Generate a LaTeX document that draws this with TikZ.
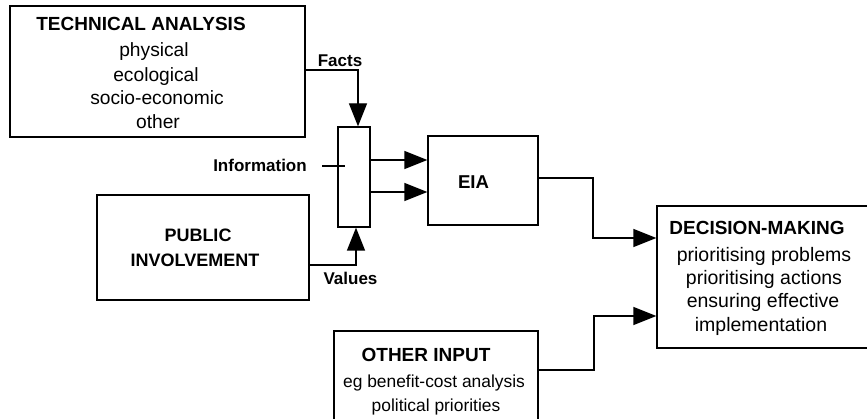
\documentclass[tikz,border=0pt]{standalone}
\usepackage{fontspec}
\setmainfont{Liberation Sans}
\usetikzlibrary{arrows.meta}
\begin{document}
\begin{tikzpicture}[x=1pt,y=-1pt,
  box/.style={draw,line width=1.3pt,rectangle,inner sep=0pt},
  conn/.style={line width=1.3pt},
  arr/.style={line width=1.3pt,-{Triangle[length=23pt,width=18pt]}},
  txt/.style={anchor=base,inner sep=0pt},
  hd/.style={txt,font=\fontsize{19}{22}\selectfont\bfseries},
  lbl/.style={txt,font=\fontsize{17}{20}\selectfont\bfseries}]
\useasboundingbox (0,0) rectangle (867,419);
\clip (0,0) rectangle (867,419);
% boxes
\node[box,minimum width=295pt,minimum height=131pt] (ta) at (157.5,71.5) {};
\node[box,minimum width=32pt,minimum height=100pt] (mix) at (354,177) {};
\node[box,minimum width=110pt,minimum height=89pt] (eia) at (483,180.5) {};
\node[box,minimum width=212pt,minimum height=105pt] (pub) at (203,247.5) {};
\node[box,minimum width=213pt,minimum height=142pt] (dm) at (763.5,277) {};
\node[box,minimum width=204pt,minimum height=94pt] (oth) at (436,378) {};
% texts
\node[hd] (tah) at (141,31) {TECHNICAL ANALYSIS};
\begin{scope}[every node/.style={txt,font=\fontsize{19.2}{22}\selectfont}]
\node (ta1) at (154,57) {physical};
\node (ta2) at (156,82) {ecological};
\node (ta3) at (157,105) {socio-economic};
\node (ta4) at (158,129) {other};
\end{scope}
\node[hd,font=\fontsize{18}{21}\selectfont\bfseries] (pub1) at (198,242) {PUBLIC};
\node[hd,font=\fontsize{18}{21}\selectfont\bfseries] (pub2) at (195,267) {INVOLVEMENT};
\node[hd,font=\fontsize{18.6}{21}\selectfont\bfseries] (eiat) at (473.5,189) {EIA};
\node[hd] (dmh) at (757,235) {DECISION-MAKING};
\begin{scope}[every node/.style={txt,font=\fontsize{19.5}{22}\selectfont}]
\node (dm1) at (764,262) {prioritising problems};
\node (dm2) at (764,285) {prioritising actions};
\node (dm3) at (763,308) {ensuring effective};
\node (dm4) at (761,332) {implementation};
\end{scope}
\node[hd] (othh) at (426,361) {OTHER INPUT};
\begin{scope}[every node/.style={txt,font=\fontsize{17.4}{20}\selectfont}]
\node (oth1) at (434,387) {eg benefit-cost analysis};
\node (oth2) at (436,411) {political priorities};
\end{scope}
\node[lbl] (facts) at (340,67) {Facts};
\node[lbl] (info) at (260,172) {Information};
\node[lbl] (vals) at (350.5,285) {Values};
% bend points
\coordinate (f1) at (358,70);
\coordinate (v1) at (356,265);
\coordinate (i1) at (322,166);
\coordinate (i2) at (345,166);
\coordinate (a1) at (0,160);
\coordinate (a2) at (0,192);
\coordinate (e1) at (593,178);
\coordinate (e2) at (593,238);
\coordinate (o1) at (594,370);
\coordinate (o2) at (594,316);
% connectors
\draw[arr] (ta.east |- f1) -- (f1) -- (f1 |- mix.north);
\draw[arr] (pub.east |- v1) -- (v1) -- (v1 |- mix.south);
\draw[conn] (i1) -- (i2);
\draw[arr] (mix.east |- a1) -- (eia.west |- a1);
\draw[arr] (mix.east |- a2) -- (eia.west |- a2);
\draw[arr] (eia.east |- e1) -- (e1) -- (e2) -- (dm.west |- e2);
\draw[arr] (oth.east |- o1) -- (o1) -- (o2) -- (dm.west |- o2);
\end{tikzpicture}
\end{document}
